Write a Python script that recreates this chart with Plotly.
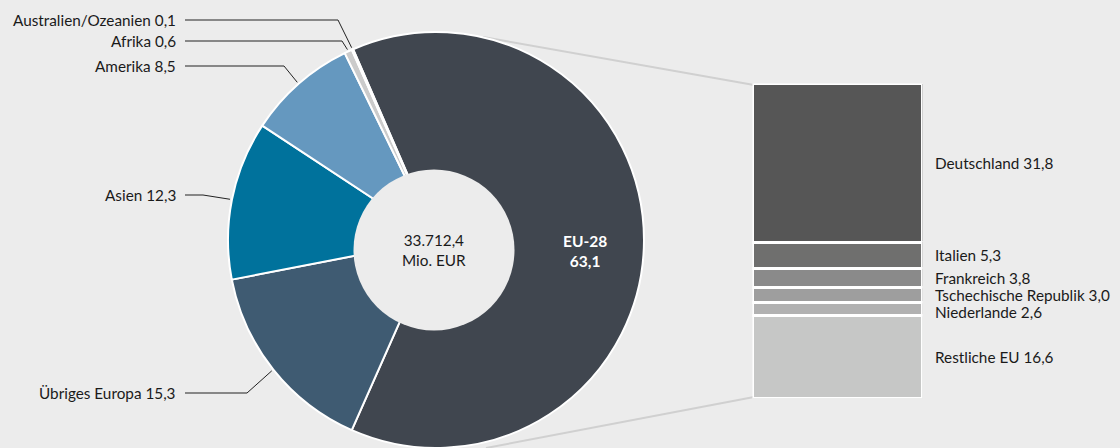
import math
import plotly.graph_objects as go

# ---------------- data ----------------
regions = ["EU-28", "Übriges Europa", "Asien", "Amerika", "Afrika", "Australien/Ozeanien"]
region_shares = [63.1, 15.3, 12.3, 8.5, 0.6, 0.1]

eu_countries = ["Deutschland", "Italien", "Frankreich", "Tschechische Republik", "Niederlande", "Restliche EU"]
eu_shares = [31.8, 5.3, 3.8, 3.0, 2.6, 16.6]

total_mio_eur = 33712.4
total_unit = "Mio. EUR"

# ---------------- style ----------------
region_colors = ["#40464f", "#3f5b72", "#00729c", "#6598bf", "#cbcbcb", "#b3b3b3"]
eu_colors = ["#565656", "#6f6f6e", "#8a8a8a", "#9e9e9e", "#b1b1b1", "#c6c7c6"]
BG = "#ececec"
TXT = "#1a1a1a"
FONT = "Lato"
FS = 15.3

W, H = 1120, 448
PIE_CX, PIE_CY, PIE_R = 436, 240, 208       # pixel geometry of the donut
HOLE_CX, HOLE_CY, HOLE_R = 434, 250, 80.5
ROTATION = -23.5
BAR_X0, BAR_X1, BAR_Y0, BAR_Y1 = 752.5, 922.5, 83.5, 398.5

# label layout for the outer labels (pixel y of label, x of elbow)
outer_label_y = {"Übriges Europa": 393, "Asien": 195, "Amerika": 66, "Afrika": 41, "Australien/Ozeanien": 20}
outer_elbow_x = {"Übriges Europa": 247, "Asien": 203, "Amerika": 284, "Afrika": 342, "Australien/Ozeanien": 338}
LABEL_RIGHT_X = 178
LINE_START_X = 185


def px(x):
    return x / W


def py(y):
    return 1 - y / H


def de(v, d=1):
    s = f"{v:,.{d}f}"
    return s.replace(",", "X").replace(".", ",").replace("X", ".")


fig = go.Figure()

fig.add_trace(go.Pie(
    labels=regions,
    values=region_shares,
    sort=False,
    direction="clockwise",
    rotation=ROTATION,
    hole=0,
    marker=dict(colors=region_colors, line=dict(color="white", width=2)),
    textinfo="none",
    hoverinfo="label+value",
    showlegend=False,
    domain=dict(x=[px(PIE_CX - PIE_R), px(PIE_CX + PIE_R)],
                y=[max(0, py(PIE_CY + PIE_R)), py(PIE_CY - PIE_R)]),
))

for name, val, col in zip(eu_countries, eu_shares, eu_colors):
    fig.add_trace(go.Bar(
        x=[0], y=[val], name=name,
        marker=dict(color=col, line=dict(color="white", width=3)),
        width=1, showlegend=False, hoverinfo="name+y",
    ))

eu_total = sum(eu_shares)
fig.update_layout(
    width=W, height=H,
    margin=dict(l=0, r=0, t=0, b=0),
    paper_bgcolor=BG, plot_bgcolor=BG,
    barmode="stack",
    font=dict(family=FONT, size=FS, color=TXT),
    xaxis=dict(domain=[px(BAR_X0), px(BAR_X1)], range=[-0.5, 0.5], visible=False, fixedrange=True),
    yaxis=dict(domain=[py(BAR_Y1), py(BAR_Y0)], range=[eu_total, 0], visible=False, fixedrange=True),
)

shapes = []
annotations = []

# connector lines from donut to bar
shapes.append(dict(type="line", xref="paper", yref="paper", layer="below",
                   x0=px(483), y0=py(37), x1=px(BAR_X0 + 1.5), y1=py(BAR_Y0 + 1.5),
                   line=dict(color="#d0d0d0", width=2)))
shapes.append(dict(type="line", xref="paper", yref="paper", layer="below",
                   x0=px(486), y0=py(448), x1=px(BAR_X0 + 1.5), y1=py(BAR_Y1 - 1.5),
                   line=dict(color="#d0d0d0", width=2)))

# hole of the donut
shapes.append(dict(type="circle", xref="paper", yref="paper", layer="above",
                   x0=px(HOLE_CX - HOLE_R), x1=px(HOLE_CX + HOLE_R),
                   y0=py(HOLE_CY + HOLE_R), y1=py(HOLE_CY - HOLE_R),
                   fillcolor=BG, line=dict(width=0)))

# slice mid angles computed from the data
tot = sum(region_shares)
cum = 0
mids = []
for v in region_shares:
    mids.append(ROTATION + 360 * (cum + v / 2) / tot)
    cum += v

for name, val, mid in zip(regions, region_shares, mids):
    a = math.radians(mid)
    if name in outer_label_y:
        ex = PIE_CX + (PIE_R + 2) * math.sin(a)
        ey = PIE_CY - (PIE_R + 2) * math.cos(a)
        ly = outer_label_y[name]
        bx = outer_elbow_x[name]
        shapes.append(dict(type="path", xref="paper", yref="paper", layer="below",
                           path=f"M {px(LINE_START_X)},{py(ly)} L {px(bx)},{py(ly)} L {px(ex)},{py(ey)}",
                           line=dict(color="#222222", width=1)))
        annotations.append(dict(xref="paper", yref="paper", x=px(LABEL_RIGHT_X), y=py(ly),
                                xanchor="right", yanchor="middle", showarrow=False,
                                text=f"{name} {de(val)}"))
    else:
        lx = HOLE_CX + 151 * math.sin(a)
        ly = HOLE_CY - 151 * math.cos(a)
        annotations.append(dict(xref="paper", yref="paper", x=px(lx), y=py(ly),
                                xanchor="center", yanchor="middle", showarrow=False,
                                text=f"<b>{name}</b><br><b>{de(val)}</b>",
                                font=dict(color="white", size=15.5)))

# centre total
annotations.append(dict(xref="paper", yref="paper", x=px(HOLE_CX), y=py(HOLE_CY),
                        xanchor="center", yanchor="middle", showarrow=False,
                        text=f"{de(total_mio_eur)}<br>{total_unit}"))

# bar labels at cumulative mid points
cum = 0
shift = {"Niederlande": -3}
for name, val in zip(eu_countries, eu_shares):
    annotations.append(dict(xref="paper", yref="y", x=px(933), y=cum + val / 2,
                            xanchor="left", yanchor="middle", showarrow=False,
                            yshift=shift.get(name, 0),
                            text=f"{name} {de(val)}"))
    cum += val

fig.update_layout(shapes=shapes, annotations=annotations)
fig.write_html("out.html",
               config=dict(displayModeBar=False),
               post_script="document.body.style.margin='0';document.body.style.overflow='hidden';")
